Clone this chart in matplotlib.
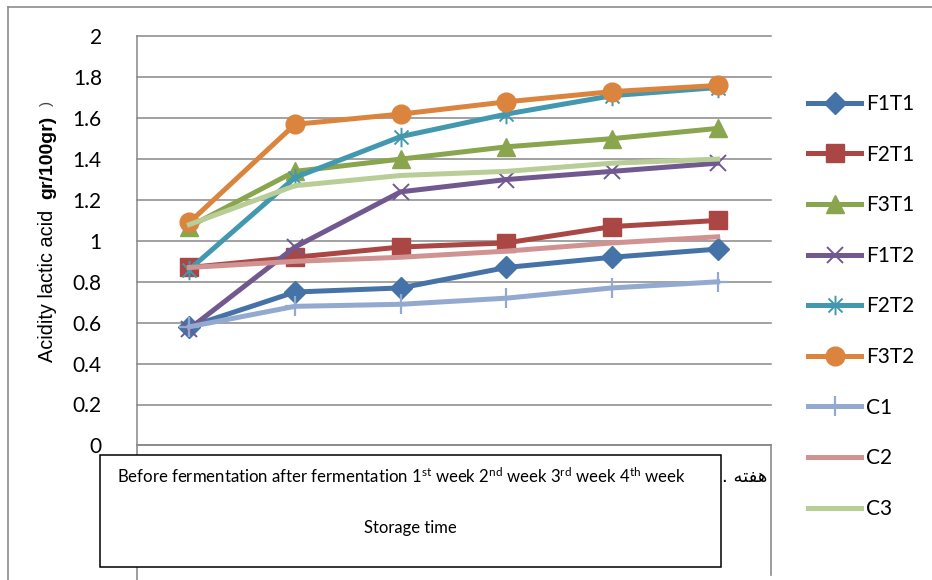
import numpy as np
import matplotlib.pyplot as plt
from matplotlib.lines import Line2D
from matplotlib.patches import Rectangle
from matplotlib.path import Path

plt.rcParams['font.family'] = ['Lato', 'DejaVu Sans']
plt.rcParams['mathtext.fontset'] = 'custom'
plt.rcParams['mathtext.rm'] = 'Lato'
plt.rcParams['mathtext.it'] = 'Lato:italic'
plt.rcParams['mathtext.bf'] = 'Lato:bold'

# storage stages (shown in the text box under the chart)
stages = ['Before fermentation', 'after fermentation', '1st week', '2nd week', '3rd week', '4th week']

# lactic acid, gr/100gr
f1t1 = [0.58, 0.75, 0.77, 0.87, 0.92, 0.96]
f2t1 = [0.87, 0.92, 0.97, 0.99, 1.07, 1.10]
f3t1 = [1.07, 1.34, 1.40, 1.46, 1.50, 1.55]
f1t2 = [0.57, 0.97, 1.24, 1.30, 1.34, 1.38]
f2t2 = [0.86, 1.31, 1.51, 1.62, 1.71, 1.75]
f3t2 = [1.09, 1.57, 1.62, 1.68, 1.73, 1.76]
c1 = [0.58, 0.68, 0.69, 0.72, 0.77, 0.80]
c2 = [0.87, 0.90, 0.92, 0.95, 0.99, 1.02]
c3 = [1.08, 1.27, 1.32, 1.34, 1.38, 1.40]

# X with a vertical bar, like the office "star" marker
star = Path([(0, -1), (0, 1), (-0.72, -0.72), (0.72, 0.72), (-0.72, 0.72), (0.72, -0.72)],
            [Path.MOVETO, Path.LINETO] * 3)

series = [
    ('F1T1', f1t1, '#4572A7', 'D', 11, 1.0),
    ('F2T1', f2t1, '#AA4643', 's', 12.5, 1.0),
    ('F3T1', f3t1, '#89A54E', '^', 13, 1.0),
    ('F1T2', f1t2, '#71588F', 'x', 12, 1.4),
    ('F2T2', f2t2, '#4198AF', star, 14, 1.4),
    ('F3T2', f3t2, '#DB843D', 'o', 13.5, 1.0),
    ('C1', c1, '#93A9CF', '+', 14, 1.6),
    ('C2', c2, '#D19392', None, 0, 1.0),
    ('C3', c3, '#B9CD96', None, 0, 1.0),
]

W, H = 932, 580
fig = plt.figure(figsize=(W / 100, H / 100), dpi=100)
ax = fig.add_axes([136.5 / W, (H - 445.4) / H, (770.5 - 136.5) / W, (445.4 - 36.4) / H])

x = np.arange(len(stages))
for i, (name, vals, col, mk, ms, mew) in enumerate(series):
    ax.plot(x, vals, color=col, lw=3.6, marker=mk, markersize=ms,
            markerfacecolor=col, markeredgecolor=col, markeredgewidth=mew,
            label=name, zorder=3 + i)

ax.set_xlim(-0.5, len(stages) - 0.5)
ax.set_ylim(0, 2)
yt = np.round(np.arange(0, 2.01, 0.2), 1)
ax.set_yticks(yt)
ax.set_yticklabels(['%g' % v for v in yt])
ax.set_xticks([])
ax.tick_params(axis='y', length=0, pad=25, labelsize=15)
ax.grid(axis='y', color='#878787', lw=1.1, clip_on=False)
ax.set_axisbelow(True)
for s in ['top', 'right']:
    ax.spines[s].set_visible(False)
for s in ['left', 'bottom']:
    ax.spines[s].set_color('#878787')
    ax.spines[s].set_linewidth(1.1)

# y axis title: regular part, bold unit, stray bracket
fig.text(48 / W, 1 - 286 / H, 'Acidity lactic acid', rotation=90, ha='center', va='center',
         family='Liberation Sans', fontsize=14.3)
fig.text(48 / W, 1 - 157 / H, 'gr/100gr)', rotation=90, ha='center', va='center',
         family='Liberation Sans', fontsize=14, fontweight='bold')
fig.text(47 / W, 1 - 103 / H, ')', rotation=90, ha='center', va='center',
         family='Liberation Sans', fontsize=11, color='#444444')

# chart frame and lines below the plot area
frame = dict(transform=fig.transFigure, color='#8c8c8c', lw=1.2)
fig.add_artist(Line2D([8 / W, 8 / W], [0, 1 - 7 / H], **frame))
fig.add_artist(Line2D([8 / W, 1], [1 - 7 / H, 1 - 7 / H], **frame))
fig.add_artist(Line2D([136.5 / W, 136.5 / W], [0, (H - 445.4) / H], **frame))
fig.add_artist(Line2D([770.5 / W, 770.5 / W], [(H - 575) / H, (H - 445.4) / H], **frame))

# text box with the storage stages
fig.add_artist(Rectangle((100 / W, (H - 567) / H), 621 / W, 112 / H, transform=fig.transFigure,
                         facecolor='white', edgecolor='black', lw=1.1, zorder=10))
sup = {'1st week': r'1$^{\rm st}$ week', '2nd week': r'2$^{\rm nd}$ week',
       '3rd week': r'3$^{\rm rd}$ week', '4th week': r'4$^{\rm th}$ week'}
box_line = ' '.join(sup.get(s, s) for s in stages)
fig.text(401 / W, 1 - 476 / H, box_line, ha='center', va='center', fontsize=12.1, zorder=11)
fig.text(410 / W, 1 - 528 / H, 'Storage time', ha='center', va='center', fontsize=12, zorder=11)

# persian word left over beside the box
fig.text(722 / W, 1 - 477 / H, '. \uFEEA\uFE98\uFED4\uFEEB', ha='left', va='center',
         family=['DejaVu Sans'], fontsize=13)

ax.legend(loc='upper left', bbox_to_anchor=(808 / W, 1 - 94 / H), bbox_transform=fig.transFigure,
          frameon=False, fontsize=15, handlelength=2.55, handletextpad=0.25,
          labelspacing=1.47, borderpad=0, borderaxespad=0)

fig.savefig('out.png', dpi=100)
